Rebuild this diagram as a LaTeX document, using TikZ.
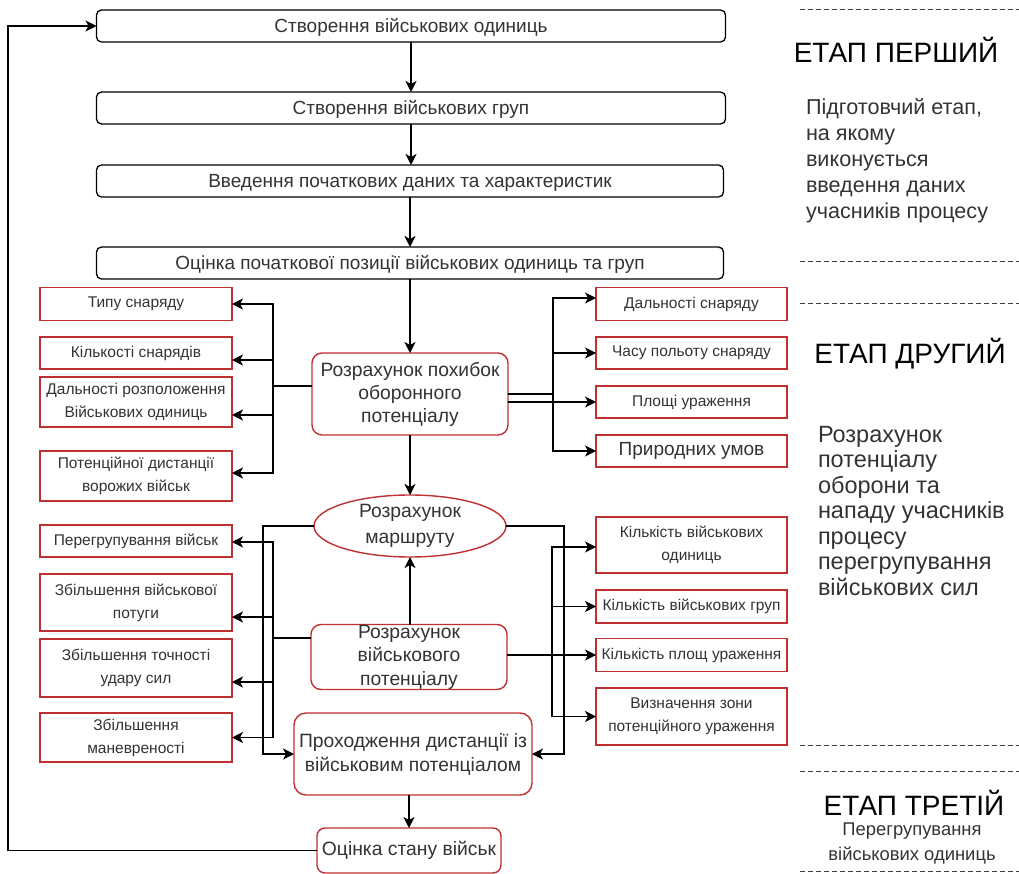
\documentclass[tikz,border=0pt]{standalone}
\usepackage{fontspec}
\setmainfont{Liberation Sans}
\usetikzlibrary{arrows.meta,shapes.geometric,calc}

\definecolor{boxred}{RGB}{192,48,48}
\definecolor{txt}{RGB}{51,51,51}
\definecolor{dashgray}{RGB}{60,60,60}

\tikzset{
  every node/.style={inner sep=0pt, outer sep=0pt},
  arr/.style={-{Stealth[length=11pt,width=11pt,inset=3pt]}, line width=1.5pt, black},
  wire/.style={line width=1.5pt, black},
  topbox/.style={draw=black, line width=1.3pt, rounded corners=5pt, fill=white,
    text=txt, font=\fontsize{19}{21}\selectfont, align=center,
    text height=13.6pt, text depth=0pt},
  redproc/.style={draw=boxred, line width=1.4pt, rounded corners=10pt, fill=white,
    text=txt, font=\fontsize{19.3}{23}\selectfont, align=center},
  param/.style={draw=boxred, line width=1.4pt, fill=white, minimum width=192pt,
    text=txt, font=\fontsize{15.5}{23}\selectfont, align=center},
  stagesep/.style={dashgray, line width=1pt, dash pattern=on 5pt off 3pt},
  stagehead/.style={text=black, font=\fontsize{28}{30}\selectfont},
  stagetext/.style={text=txt, align=left, anchor=north west}
}

\begin{document}
\begin{tikzpicture}[x=1pt,y=-1pt]
\useasboundingbox (0,0) rectangle (1019,874);

% ---- preparation stage: data entry boxes ----
\node[topbox, minimum width=629pt, minimum height=32pt] (b1) at (411,26) {Створення військових одиниць};
\node[topbox, minimum width=629pt, minimum height=32pt] (b2) at (411,108) {Створення військових груп};
\node[topbox, minimum width=627pt, minimum height=32pt] (b3) at (410,181) {Введення початкових даних та характеристик};
\node[topbox, minimum width=627pt, minimum height=32pt] (b4) at (410,263) {Оцінка початкової позиції військових одиниць та груп};

% ---- defence potential error ----
\node[redproc, minimum width=196pt, minimum height=82pt] (pox) at (410,394) {Розрахунок похибок\\оборонного\\потенціалу};

\node[param, minimum height=33pt] (L1) at (136,304) {Типу снаряду};
\node[param, minimum height=32pt] (L2) at (136,353) {Кількості снарядів};
\node[param, minimum height=50pt] (L3) at (136,402) {Дальності розположення\\Військових одиниць};
\node[param, minimum height=50pt] (L4) at (136,476) {Потенційної дистанції\\ворожих військ};

\node[param, minimum width=191pt, minimum height=33pt] (R1) at (691.5,304) {Дальності снаряду};
\node[param, minimum width=191pt, minimum height=32pt] (R2) at (691.5,353) {Часу польоту снаряду};
\node[param, minimum width=191pt, minimum height=32pt] (R3) at (691.5,402) {Площі ураження};
\node[param, minimum width=191pt, minimum height=32pt, font=\fontsize{19}{22}\selectfont] (R4) at (691.5,451) {Природних умов};

% ---- route and military potential ----
\node[ellipse, draw=boxred, line width=1.4pt, fill=white, minimum width=192pt, minimum height=62pt,
  text=txt, font=\fontsize{19.3}{26}\selectfont, align=center] (mar) at (410,526) {Розрахунок\\маршруту};
\node[redproc, minimum width=196pt, minimum height=65pt, font=\fontsize{19.3}{23.5}\selectfont] (vp) at (409,657) {Розрахунок\\військового\\потенціалу};
\node[redproc, rounded corners=12pt, minimum width=238pt, minimum height=82pt, font=\fontsize{19.3}{24}\selectfont] (prox) at (413,754) {Проходження дистанції із\\військовим потенціалом};
\node[redproc, rounded corners=8pt, minimum width=184pt, minimum height=45pt] (oc) at (409,850.5) {Оцінка стану військ};

\node[param, minimum height=32pt] (LB1) at (136,541) {Перегрупування військ};
\node[param, minimum height=57pt] (LB2) at (136,602.5) {Збільшення військової\\потуги};
\node[param, minimum height=58pt] (LB3) at (136,668) {Збільшення точності\\удару сил};
\node[param, minimum height=49pt] (LB4) at (136,737.5) {Збільшення\\маневреності};

\node[param, minimum width=191pt, minimum height=56pt] (RB1) at (691.5,545) {Кількість військових\\одиниць};
\node[param, minimum width=191pt, minimum height=33pt] (RB2) at (691.5,606.5) {Кількість військових груп};
\node[param, minimum width=191pt, minimum height=33pt] (RB3) at (691.5,655) {Кількість площ ураження};
\node[param, minimum width=191pt, minimum height=57pt] (RB4) at (691.5,716.5) {Визначення зони\\потенційного ураження};

% ---- main chain ----
\draw[arr] (b1.south) -- (b1.south |- b2.north);
\draw[arr] (b2.south) -- (b2.south |- b3.north);
\draw[arr] (b3.south) -- (b3.south |- b4.north);
\draw[arr] (pox.north |- b4.south) -- (pox.north);
\draw[arr] (pox.south) -- (pox.south |- mar.north);
\draw[arr] (vp.north -| mar.south) -- (mar.south);
\draw[arr] (oc.north |- prox.south) -- (oc.north);

% feedback loop back to the start
\coordinate (loop) at (8,0);
\draw[arr] (oc.west) -- (loop |- oc.west) -- (loop |- b1.west) -- (b1.west);

% ---- branches of the defence potential error ----
\coordinate (jl) at (273,386);
\draw[wire] (pox.west |- jl) -- (jl);
\draw[arr] (jl) |- (L1.east);
\draw[arr] (jl) |- ([yshift=-7pt]L2.east);
\draw[arr] (jl) |- ([yshift=-13pt]L3.east);
\draw[arr] (jl) |- ([yshift=3pt]L4.east);

\coordinate (jr) at (553,394);
\draw[wire] (pox.east |- jr) -- (jr);
\draw[arr] (jr) |- ([yshift=6pt]R1.west);
\draw[arr] (jr) |- (R2.west);
\draw[arr] (pox.east |- R3.west) -- (R3.west);
\draw[arr] (jr) |- (R4.west);

% ---- branches of the military potential ----
\coordinate (jbl) at (273,638);
\draw[wire] (vp.west |- jbl) -- (jbl);
\draw[arr] (jbl) |- ([yshift=-1pt]LB1.east);
\draw[arr] (jbl) |- ([yshift=-14.5pt]LB2.east);
\draw[arr] (jbl) |- ([yshift=-14pt]LB3.east);
\draw[arr] (jbl) |- (LB4.east);

\coordinate (jbr) at (552,655);
\draw[arr] (vp.east |- RB3.west) -- (RB3.west);
\draw[arr] (jbr) |- ([yshift=-2pt]RB1.west);
\draw[arr] (jbr) |- (RB2.west);
\draw[arr] (jbr) |- (RB4.west);

% route links into the distance stage
\coordinate (ol) at (263,0);
\coordinate (or) at (564,0);
\draw[arr] (mar.west) -- (ol |- mar.west) -- (ol |- prox.west) -- (prox.west);
\draw[arr] (mar.east) -- (or |- mar.east) -- (or |- prox.east) -- (prox.east);

% ---- stage column ----
\draw[stagesep] (800,10) -- (1019,10);
\draw[stagesep] (800,262) -- (1019,262);
\draw[stagesep] (800,304) -- (1019,304);
\draw[stagesep] (800,745) -- (1019,745);
\draw[stagesep] (800,771) -- (1019,771);
\draw[stagesep] (800,871) -- (1019,871);

\node[stagehead] (h1) at (896,50) {ЕТАП ПЕРШИЙ};
\node[stagetext, font=\fontsize{21.6}{26}\selectfont] (t1) at (806,98.5) {Підготовчий етап,\\на якому\\виконується\\введення даних\\учасників процесу};

\node[stagehead] (h2) at (910,354) {ЕТАП ДРУГИЙ};
\node[stagetext, font=\fontsize{23.5}{25.5}\selectfont] (t2) at (818,426) {Розрахунок\\потенціалу\\оборони та\\нападу учасників\\процесу\\перегрупування\\військових сил};

\node[stagehead] (h3) at (914,803) {ЕТАП ТРЕТІЙ};
\node[text=txt, align=center, font=\fontsize{18.4}{25}\selectfont] (t3) at (912,843) {Перегрупування\\військових одиниць};
\end{tikzpicture}
\end{document}
